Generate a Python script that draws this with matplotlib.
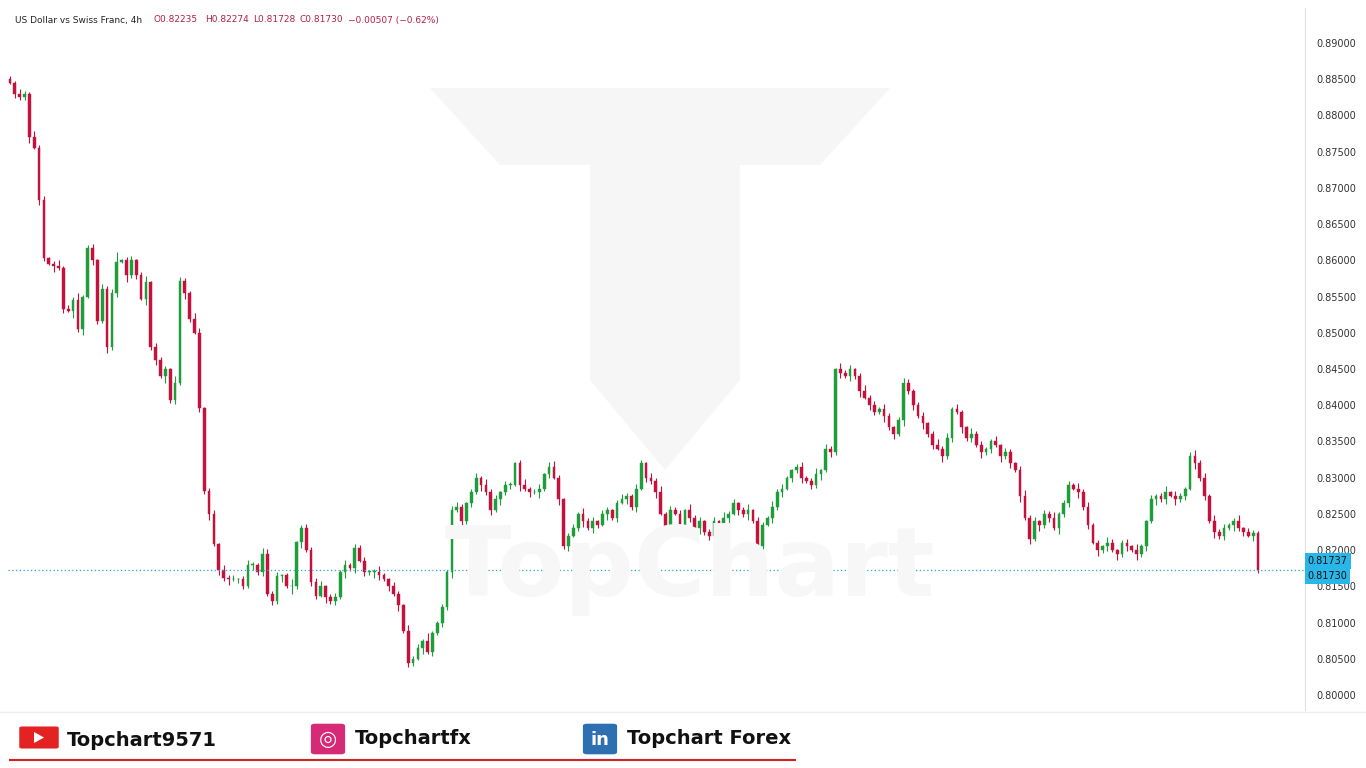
import matplotlib
matplotlib.use("Agg")
import matplotlib.pyplot as plt
from matplotlib.patches import Rectangle, Polygon, FancyBboxPatch

closes = [0.8845,0.8830,0.8825,0.8830,0.8770,0.8755,0.8683,0.8603,0.8595,0.8592,0.8590,0.8533,0.8530,0.8545,0.8505,0.8550,0.8617,0.8600,0.8516,0.8560,0.8480,0.8555,0.8598,0.8600,0.8580,0.8600,0.8580,0.8547,0.8570,0.8480,0.8462,0.8440,0.8450,0.8407,0.8430,0.8571,0.8555,0.8519,0.8500,0.8396,0.8282,0.8250,0.8208,0.8172,0.8162,0.8160,0.8160,0.8160,0.8150,0.8180,0.8180,0.8170,0.8195,0.8139,0.8130,0.8164,0.8165,0.8150,0.8150,0.8211,0.8230,0.8200,0.8156,0.8137,0.8150,0.8135,0.8130,0.8135,0.8170,0.8180,0.8175,0.8203,0.8185,0.8170,0.8170,0.8170,0.8165,0.8160,0.8150,0.8140,0.8124,0.8088,0.8044,0.8050,0.8065,0.8075,0.8060,0.8085,0.8100,0.8121,0.8170,0.8255,0.8260,0.8240,0.8265,0.8280,0.8300,0.8290,0.8280,0.8255,0.8270,0.8280,0.8290,0.8290,0.8320,0.8290,0.8285,0.8280,0.8280,0.8285,0.8305,0.8315,0.8300,0.8270,0.8205,0.8220,0.8230,0.8250,0.8240,0.8230,0.8240,0.8235,0.8250,0.8255,0.8245,0.8265,0.8270,0.8275,0.8260,0.8285,0.8320,0.8300,0.8295,0.8280,0.8250,0.8230,0.8255,0.8250,0.8235,0.8255,0.8245,0.8230,0.8240,0.8225,0.8220,0.8240,0.8230,0.8245,0.8250,0.8265,0.8255,0.8250,0.8255,0.8240,0.8205,0.8235,0.8245,0.8260,0.8280,0.8285,0.8300,0.8310,0.8315,0.8300,0.8295,0.8290,0.8305,0.8310,0.8340,0.8335,0.8450,0.8445,0.8440,0.8450,0.8440,0.8420,0.8410,0.8400,0.8390,0.8395,0.8385,0.8370,0.8360,0.8380,0.8430,0.8420,0.8400,0.8385,0.8375,0.8360,0.8345,0.8340,0.8330,0.8355,0.8395,0.8390,0.8370,0.8355,0.8360,0.8345,0.8335,0.8340,0.8350,0.8345,0.8330,0.8335,0.8320,0.8310,0.8275,0.8245,0.8215,0.8240,0.8235,0.8250,0.8245,0.8230,0.8250,0.8265,0.8290,0.8285,0.8280,0.8260,0.8235,0.8210,0.8200,0.8205,0.8210,0.8200,0.8195,0.8210,0.8205,0.8200,0.8195,0.8205,0.8240,0.8270,0.8275,0.8270,0.8280,0.8275,0.8270,0.8275,0.8285,0.8330,0.8320,0.8300,0.8275,0.8240,0.8225,0.8220,0.8230,0.8235,0.8240,0.8230,0.8225,0.8220,0.8224,0.8173]
first_open = 0.8850
# wick sizes, in units of 0.0002
upper_wicks = "2132142312413251231423712312413221532143123142312321432312512323412313132312421321423152121332123142313212412313421231423132124213213241323142312314231241321423112312413214231242313212431231242313214231241321342313241231423121431231421312413213423142312413214231242312413214231232"
lower_wicks = "1322413214231524132142315231423152314213241324132142313241524132142314231324313241321423132413231423142314231423142312413214231324132413214231423132413241321423132413241324132413214231423142314231423142314231423142314231423142314231423142314231423142314231423142314231423142312"
last_price = 0.81730
prev_line = 0.81737
tick_values = [0.800,0.805,0.810,0.815,0.820,0.825,0.830,0.835,0.840,0.845,0.850,0.855,0.860,0.865,0.870,0.875,0.880,0.885,0.890]
title = "US Dollar vs Swiss Franc, 4h"
ohlc_text = ["O0.82235", "H0.82274", "L0.81728", "C0.81730", "\u22120.00507 (\u22120.62%)"]

GREEN = "#1e9e3a"
RED = "#c4123f"

fig = plt.figure(figsize=(13.66, 7.68), dpi=100)
W, H = 1366, 768
def fx(px): return px / W
def fy(py): return 1 - py / H

n = len(closes)
opens = [first_open] + closes[:-1]
s = 1248 / (n - 1)

# watermark
wm = dict(transform=fig.transFigure, facecolor="#f6f6f6", edgecolor="none", zorder=0)
fig.patches.append(Polygon([(fx(430), fy(88)), (fx(890), fy(88)), (fx(820), fy(165)), (fx(500), fy(165))], **wm))
fig.patches.append(Polygon([(fx(590), fy(165)), (fx(740), fy(165)), (fx(740), fy(380)), (fx(665), fy(470)), (fx(590), fy(380))], **wm))
fig.text(fx(690), fy(570), "TopChart", fontsize=70, fontweight="bold", color="#f7f7f7", ha="center", va="center", zorder=0)

ax = fig.add_axes([fx(8), fy(710), fx(1305) - fx(8), fy(8) - fy(710)])
ax.patch.set_alpha(0)
for i in range(n):
    o, c = opens[i], closes[i]
    col = GREEN if c >= o else RED
    uw = int(upper_wicks[i % len(upper_wicks)]) * 0.0002
    lw = int(lower_wicks[i % len(lower_wicks)]) * 0.0002
    hi = max(o, c) + uw
    lo = min(o, c) - lw
    ax.vlines(i, lo, hi, color=col, linewidth=0.8)
    bh = abs(c - o)
    if bh < 0.00008:
        bh = 0.00008
    ax.add_patch(Rectangle((i - 0.28, min(o, c)), 0.56, bh, facecolor=col, edgecolor=col, linewidth=0.3))

ax.axhline(last_price, color="#2aa8c8", linestyle=(0, (1, 2)), linewidth=0.9)
ax.set_xlim(-2 / s, n - 1 + 47 / s)
ax.set_ylim(0.80 - (710 - 695) / 7244, 0.89 + (43 - 8) / 7244)
ax.yaxis.tick_right()
ax.set_yticks(tick_values)
ax.set_yticklabels([f"{v:.5f}" for v in tick_values], fontsize=7, color="#333333")
ax.tick_params(axis="y", length=0, pad=8)
ax.set_xticks([])
for sp in ["top", "bottom", "left"]:
    ax.spines[sp].set_visible(False)
ax.spines["right"].set_color("#e0e0e0")

for val, yv in [(prev_line, 0.81737 + 0.0011), (last_price, 0.81730 - 0.0009)]:
    ax.text(1.002, yv, f"{val:.5f}", transform=ax.get_yaxis_transform(), fontsize=7, color="#111111",
            va="center", ha="left", bbox=dict(boxstyle="square,pad=0.3", facecolor="#29b6e8", edgecolor="none"))

fig.text(fx(15), fy(20), title, fontsize=6.5, color="#222222", va="center")
xs = [153, 205, 253, 300, 348]
for xt, t in zip(xs, ohlc_text):
    fig.text(fx(xt), fy(20), t, fontsize=6.5, color="#b0204a", va="center")

# footer
fig.patches.append(FancyBboxPatch((fx(22), fy(747)), fx(34), fy(728) - fy(747), boxstyle="round,pad=0.002",
                                  transform=fig.transFigure, facecolor="#e52222", edgecolor="none"))
fig.patches.append(Polygon([(fx(34), fy(732)), (fx(34), fy(743)), (fx(44), fy(737.5))], transform=fig.transFigure, facecolor="white", edgecolor="none"))
fig.patches.append(FancyBboxPatch((fx(315), fy(752)), fx(26), fy(726) - fy(752), boxstyle="round,pad=0.003",
                                  transform=fig.transFigure, facecolor="#d62976", edgecolor="none"))
fig.patches.append(FancyBboxPatch((fx(587), fy(752)), fx(26), fy(726) - fy(752), boxstyle="round,pad=0.003",
                                  transform=fig.transFigure, facecolor="#2d6fb0", edgecolor="none"))
fig.text(fx(600), fy(740), "in", fontsize=13, fontweight="bold", color="white", ha="center", va="center")
fig.text(fx(328), fy(739), "\u25ce", fontsize=15, color="white", ha="center", va="center")
fig.text(fx(67), fy(741), "Topchart9571", fontsize=14, fontweight="bold", color="#111111", va="center")
fig.text(fx(355), fy(739), "Topchartfx", fontsize=14, fontweight="bold", color="#111111", va="center")
fig.text(fx(627), fy(739), "Topchart Forex", fontsize=14, fontweight="bold", color="#111111", va="center")
fig.lines.append(plt.Line2D([fx(10), fx(795)], [fy(760), fy(760)], transform=fig.transFigure, color="#d42020", linewidth=1.5))
fig.lines.append(plt.Line2D([fx(0), fx(1366)], [fy(712), fy(712)], transform=fig.transFigure, color="#eeeeee", linewidth=1))

fig.savefig("out.png", dpi=100)
